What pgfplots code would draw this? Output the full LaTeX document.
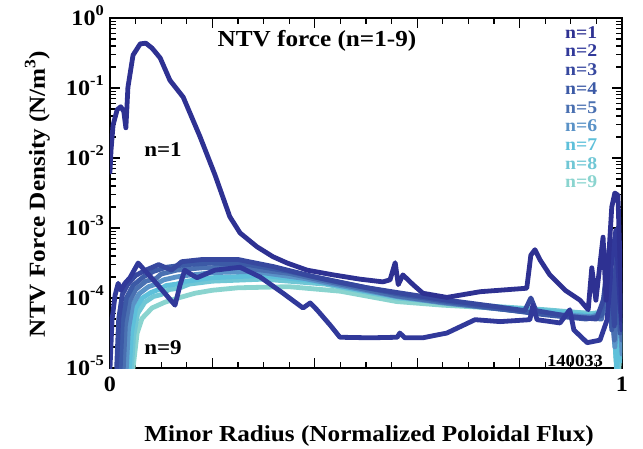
\documentclass[border=0pt]{standalone}
\usepackage{pgfplots}
\pgfplotsset{compat=1.18}
\usepackage{fontspec}
\setmainfont{Liberation Serif}[FakeStretch=1.1]
\newcommand{\fs}[1]{\fontsize{#1}{#1}\selectfont\bfseries}
\newcommand{\tl}[1]{\fs{22}10\smash{\raisebox{0.42em}{\fs{15}#1}}}
\definecolor{c1}{HTML}{2E3192}
\definecolor{c2}{HTML}{31399A}
\definecolor{c3}{HTML}{37489F}
\definecolor{c4}{HTML}{3C5AA6}
\definecolor{c5}{HTML}{4A70B1}
\definecolor{c6}{HTML}{5A92C7}
\definecolor{c7}{HTML}{5EC0DA}
\definecolor{c8}{HTML}{70C7D5}
\definecolor{c9}{HTML}{8AD4CF}
\begin{document}
\begin{tikzpicture}
\begin{axis}[
  at={(0,0)}, anchor=south west,
  scale only axis, width=512bp, height=350bp,
  ymode=log, xmin=0, xmax=1, ymin=1e-5, ymax=1,
  axis line style={line width=2bp},
  every tick/.style={black, line width=1.3bp},
  tick align=inside,
  major tick length=10bp, minor tick length=6bp,
  xtick={0,0.2,0.4,0.6,0.8,1},
  xticklabels={{\fs{22}0},,,,,{\fs{22}1}},
  minor x tick num=3,
  ytick={1e-5,1e-4,1e-3,1e-2,1e-1,1},
  yticklabels={{\tl{-5}},{\tl{-4}},{\tl{-3}},{\tl{-2}},{\tl{-1}},{\tl{0}}},
  yticklabel style={anchor=east, inner sep=0pt, xshift=-6bp},
  xticklabel style={anchor=north, inner sep=0pt, yshift=-9bp},
  every axis plot/.append style={line width=4.8bp, line join=round, line cap=round, mark=none},
]
% n=9
\addplot[c9] coordinates {(0.045,1e-5)(0.053,3.16e-5)(0.0625,5.1e-5)(0.082,7.2e-5)(0.107,8.7e-5)(0.133,1e-4)(0.166,1.17e-4)(0.2,1.29e-4)(0.25,1.4e-4)(0.35,1.45e-4)(0.45,1.25e-4)(0.56,8.9e-5)(0.65,7.9e-5)(0.75,7.2e-5)(0.85,6.6e-5)(0.94,6.0e-5)(0.97,6.3e-5)(0.983,5e-5)(0.992,6.3e-6)(1.0,4e-5)};
% n=8
\addplot[c8] coordinates {(0.042,1e-5)(0.046,2.8e-5)(0.054,6e-5)(0.068,8.7e-5)(0.085,1.05e-4)(0.1,1.12e-4)(0.115,1.32e-4)(0.135,1.38e-4)(0.155,1.58e-4)(0.2,1.74e-4)(0.3,1.86e-4)(0.42,1.58e-4)(0.56,1e-4)(0.65,8.7e-5)(0.75,7.6e-5)(0.85,6.8e-5)(0.94,6.0e-5)(0.97,6.3e-5)(0.982,7.9e-5)(0.99,8e-6)(1.0,3.16e-5)};
% n=7
\addplot[c7] coordinates {(0.038,1e-5)(0.042,3.16e-5)(0.05,7.1e-5)(0.063,1e-4)(0.08,1.2e-4)(0.095,1.32e-4)(0.11,1.51e-4)(0.13,1.58e-4)(0.15,1.74e-4)(0.2,1.95e-4)(0.3,2.1e-4)(0.4,1.74e-4)(0.5,1.26e-4)(0.56,1.05e-4)(0.65,8.7e-5)(0.75,7.4e-5)(0.85,6.5e-5)(0.94,5.6e-5)(0.97,6.3e-5)(0.98,1e-4)(0.99,1e-5)(0.996,5e-5)(1.0,1.26e-5)};
% n=6
\addplot[c6] coordinates {(0.032,1e-5)(0.036,3.55e-5)(0.044,7.9e-5)(0.057,1.15e-4)(0.075,1.45e-4)(0.09,1.58e-4)(0.105,1.82e-4)(0.13,2.0e-4)(0.15,2.1e-4)(0.2,2.3e-4)(0.28,2.4e-4)(0.38,1.9e-4)(0.47,1.41e-4)(0.56,1.05e-4)(0.65,8.5e-5)(0.75,7.1e-5)(0.85,6.0e-5)(0.94,5.4e-5)(0.97,6.3e-5)(0.978,1.58e-4)(0.986,2e-5)(0.994,1e-4)(1.0,1.58e-5)};
% n=5
\addplot[c5] coordinates {(0.026,1e-5)(0.03,4e-5)(0.038,8.9e-5)(0.05,1.32e-4)(0.07,1.74e-4)(0.09,1.9e-4)(0.1,2.2e-4)(0.13,2.5e-4)(0.18,2.7e-4)(0.25,2.75e-4)(0.35,2.24e-4)(0.45,1.58e-4)(0.56,1.07e-4)(0.65,8.7e-5)(0.75,7.1e-5)(0.85,5.9e-5)(0.93,5.25e-5)(0.96,5e-5)(0.975,2e-4)(0.985,2.5e-5)(0.993,2.5e-4)(1.0,2.5e-5)};
% n=4
\addplot[c4] coordinates {(0.02,1e-5)(0.024,4.5e-5)(0.032,1e-4)(0.045,1.51e-4)(0.065,2.0e-4)(0.085,2.4e-4)(0.11,2.75e-4)(0.15,3.0e-4)(0.2,3.16e-4)(0.27,3.0e-4)(0.35,2.4e-4)(0.45,1.66e-4)(0.56,1.15e-4)(0.65,9.1e-5)(0.75,7.2e-5)(0.85,5.75e-5)(0.93,5e-5)(0.96,5.6e-5)(0.972,3.16e-4)(0.98,3.5e-5)(0.99,5e-4)(0.996,3.16e-5)(1.0,1.58e-4)};
% n=3
\addplot[c3] coordinates {(0.013,1e-5)(0.017,5e-5)(0.024,1.12e-4)(0.035,1.58e-4)(0.05,2.1e-4)(0.07,2.5e-4)(0.095,3.0e-4)(0.12,2.5e-4)(0.14,3.3e-4)(0.18,3.55e-4)(0.25,3.55e-4)(0.32,2.8e-4)(0.4,2.0e-4)(0.5,1.41e-4)(0.56,1.2e-4)(0.65,9.5e-5)(0.75,7.6e-5)(0.81,6.6e-5)(0.822,1.0e-4)(0.832,6.6e-5)(0.9,5.4e-5)(0.95,5e-5)(0.965,1e-4)(0.975,5e-4)(0.985,4e-5)(0.992,1e-3)(0.997,6.3e-5)(1.0,2.5e-4)};
% n=2
\addplot[c2] coordinates {(0,1e-5)(0.004,4.9e-5)(0.01,1.1e-4)(0.016,1.62e-4)(0.021,1.29e-4)(0.029,1.62e-4)(0.039,1.95e-4)(0.055,3.16e-4)(0.088,1.7e-4)(0.127,7.9e-5)(0.137,1.55e-4)(0.146,2.5e-4)(0.16,2.14e-4)(0.17,1.95e-4)(0.205,2.5e-4)(0.254,2.75e-4)(0.293,2.0e-4)(0.338,1.17e-4)(0.377,7.2e-5)(0.391,8.5e-5)(0.404,6.8e-5)(0.43,4.1e-5)(0.449,2.75e-5)(0.508,2.7e-5)(0.561,2.75e-5)(0.566,3.16e-5)(0.576,2.7e-5)(0.611,2.7e-5)(0.658,3.16e-5)(0.713,4.9e-5)(0.762,4.6e-5)(0.82,4.9e-5)(0.826,7.9e-5)(0.834,4.9e-5)(0.879,4.4e-5)(0.898,6.8e-5)(0.906,3.5e-5)(0.932,2.3e-5)(0.957,2.5e-5)(0.971,4.9e-5)(0.98,3.5e-4)(0.988,9.3e-4)(0.996,9.3e-5)(1.0,3.5e-5)};
% n=1
\addplot[c1] coordinates {(0,6.3e-3)(0.002,1.29e-2)(0.006,2.95e-2)(0.014,4.9e-2)(0.021,5.4e-2)(0.027,4.6e-2)(0.031,2.7e-2)(0.035,1.02e-1)(0.045,2.95e-1)(0.059,4.27e-1)(0.07,4.37e-1)(0.082,3.72e-1)(0.098,2.69e-1)(0.117,1.29e-1)(0.143,7.4e-2)(0.176,2.0e-2)(0.205,5.75e-3)(0.234,1.45e-3)(0.254,8.5e-4)(0.287,5.4e-4)(0.318,3.9e-4)(0.346,3.16e-4)(0.385,2.5e-4)(0.436,2.14e-4)(0.488,1.86e-4)(0.533,1.7e-4)(0.547,1.82e-4)(0.557,3.2e-4)(0.563,1.55e-4)(0.572,2.14e-4)(0.592,1.55e-4)(0.611,1.17e-4)(0.658,1.02e-4)(0.723,1.23e-4)(0.814,1.38e-4)(0.822,4.1e-4)(0.83,4.9e-4)(0.84,3.5e-4)(0.859,2.14e-4)(0.889,1.29e-4)(0.918,9.3e-5)(0.934,6.8e-5)(0.941,2.7e-4)(0.949,9.3e-5)(0.963,7.4e-4)(0.969,9.3e-5)(0.98,2.0e-3)(0.986,3.16e-3)(0.992,2.95e-3)(0.996,3.5e-4)(1.0,4.9e-5)};
\end{axis}
% texts
\node[anchor=base] at (207bp,321bp) {\fs{23}NTV force (n=1-9)};
\node[anchor=base] at (259bp,-73.7bp) {\fs{23}Minor Radius (Normalized Poloidal Flux)};
\node[anchor=base, rotate=90] at (-65bp,174bp) {\fs{23}NTV Force Density (N/m\smash{\raisebox{0.42em}{\fs{16}3}})};
\node at (53bp,218bp) {\fs{21}n=1};
\node at (53bp,20bp) {\fs{21}n=9};
\node at (465bp,7bp) {\fs{17}140033};
\foreach \i/\c in {1/c1,2/c2,3/c3,4/c4,5/c5,6/c6,7/c7,8/c8,9/c9}{
  \node[anchor=base west, inner sep=0pt, text=\c] at (455bp,{329.7bp-(\i-1)*18.7bp}) {\fs{18}n=\i};
}
\pgfresetboundingbox
\path[use as bounding box] (-110bp,-81bp) rectangle (533bp,368bp);
\end{tikzpicture}
\end{document}
